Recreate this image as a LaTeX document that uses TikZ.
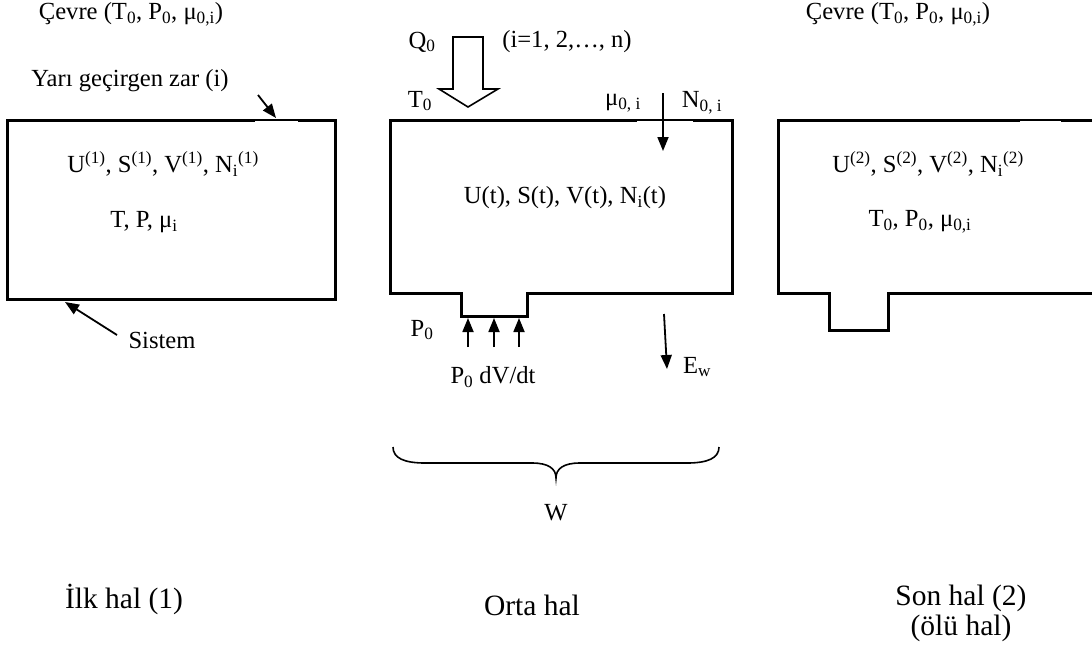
\documentclass[tikz,border=0pt]{standalone}
\usepackage{fontspec}
\setmainfont{Liberation Serif}
\usetikzlibrary{arrows.meta}
\tikzset{
  lbl/.style={inner sep=0pt, font=\fontsize{24.6}{29}\selectfont},
  biglbl/.style={inner sep=0pt, align=center, font=\fontsize{29.5}{30}\selectfont},
  wall/.style={line width=3pt, line join=miter},
  memb/.style={line width=1.4pt},
  arr/.style={line width=1.8pt, -{Triangle[length=14pt,width=11pt]}},
  hollow/.style={line width=1.6pt, line join=miter, fill=white},
}
\begin{document}
\begin{tikzpicture}[x=1pt,y=-1pt]
\useasboundingbox (0,0) rectangle (1092,651);
\clip (0,0) rectangle (1092,651);
% ---------- left box (state 1)
\draw[wall] (255,120) -- (7,120) -- (7,299) -- (335,299) -- (335,120) -- (298,120);
\draw[memb] (255,120) -- (298,120);
\coordinate (m1) at (276,118);
\coordinate (m1s) at (258,95);
\coordinate (b1) at (65,302);
\node[lbl] (cev1) at (131,14) {Çevre (T\textsubscript{0}, P\textsubscript{0}, μ\textsubscript{0,i})};
\node[lbl] (yari) at (130,81) {Yarı geçirgen zar (i)};
\node[lbl] (st1a) at (163,164) {U\textsuperscript{(1)}, S\textsuperscript{(1)}, V\textsuperscript{(1)}, N\textsubscript{i}\textsuperscript{(1)}};
\node[lbl] (st1b) at (144,222) {T, P, μ\textsubscript{i}};
\node[lbl] (sis) at (162,340) {Sistem};
\draw[arr] (m1s) -- (m1);
\draw[arr] (117,335) -- (b1);
\node[biglbl] (ilk) at (124,599) {İlk hal (1)};
% ---------- middle box
\draw[wall] (637,120) -- (390,120) -- (390,293) -- (461,293) -- (461,316) -- (527,316) -- (527,293) -- (732,293) -- (732,120) -- (693,120);
\draw[memb] (637,120) -- (693,120);
\draw[hollow] (453,37) -- (483,37) -- (483,89) -- (498,89) -- (468,107) -- (439,89) -- (453,89) -- cycle;
\node[lbl] (q0) at (422,42) {Q\textsubscript{0}};
\node[lbl] (irange) at (567,42) {(i=1, 2,…, n)};
\node[lbl] (t0) at (420,101) {T\textsubscript{0}};
\node[lbl] (mu0) at (623,103) {μ\textsubscript{0, i}};
\node[lbl] (n0) at (702,103) {N\textsubscript{0, i}};
\coordinate (nA) at (663,93);
\coordinate (nB) at (663,151);
\draw[arr] (nA) -- (nB);
\node[lbl] (st2) at (565,198) {U(t), S(t), V(t), N\textsubscript{i}(t)};
\node[lbl] (p0) at (422,330) {P\textsubscript{0}};
\foreach \xx/\nm in {468/pa,494/pb,519/pc}{
  \coordinate (\nm s) at (\xx,347);
  \coordinate (\nm e) at (\xx,318);
  \draw[arr] (\nm s) -- (\nm e);
}
\node[lbl] (pdv) at (493,377) {P\textsubscript{0} dV/dt};
\coordinate (ewA) at (664,314);
\coordinate (ewB) at (667,369);
\draw[arr] (ewA) -- (ewB);
\node[lbl] (ew) at (697,367) {E\textsubscript{w}};
\draw[line width=1.6pt] (393,447) .. controls (393,458) and (404,463) .. (425,463) -- (532,463) .. controls (549,463) and (556,469) .. (556,478) .. controls (556,469) and (563,463) .. (580,463) -- (687,463) .. controls (708,463) and (719,458) .. (719,447);
\node[lbl] (w) at (556,513) {W};
\node[biglbl] (orta) at (532,605) {Orta hal};
% ---------- right box (state 2)
\draw[wall] (1020,120) -- (778,120) -- (778,293) -- (829,293) -- (829,330) -- (888,330) -- (888,293) -- (1100,293);
\draw[wall] (1061,120) -- (1100,120);
\draw[memb] (1020,120) -- (1061,120);
\node[lbl] (cev2) at (898,14) {Çevre (T\textsubscript{0}, P\textsubscript{0}, μ\textsubscript{0,i})};
\node[lbl] (st3a) at (928,164) {U\textsuperscript{(2)}, S\textsuperscript{(2)}, V\textsuperscript{(2)}, N\textsubscript{i}\textsuperscript{(2)}};
\node[lbl] (st3b) at (920,222) {T\textsubscript{0}, P\textsubscript{0}, μ\textsubscript{0,i}};
\node[biglbl] (son) at (961,613) {Son hal (2)\\(ölü hal)};
\end{tikzpicture}
\end{document}
